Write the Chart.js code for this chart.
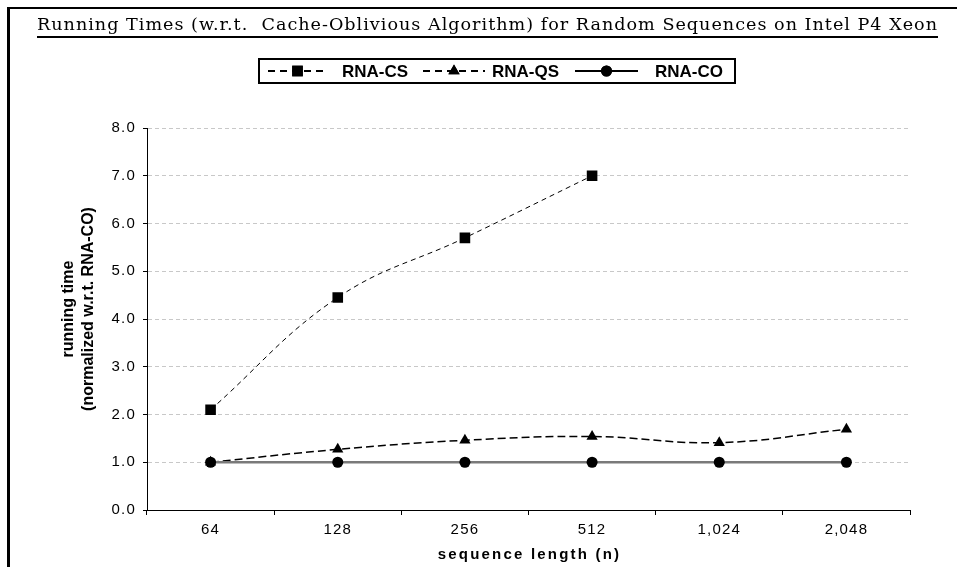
<!DOCTYPE html>
<html>
<head>
<meta charset="utf-8">
<script src="https://cdn.jsdelivr.net/npm/chart.js@4.4.1/dist/chart.umd.min.js"></script>
<style>
  html, body { margin: 0; padding: 0; background: #fff; }
  #wrap { position: relative; width: 957px; height: 567px; }
</style>
</head>
<body>
<div id="wrap"><canvas id="chart" width="957" height="567"></canvas></div>
<script>
// Data
const titleText = 'Running Times (w.r.t.  Cache-Oblivious Algorithm) for Random Sequences on Intel P4 Xeon';
const xTitle = 'sequence length (n)';
const yTitle = ['running time', '(normalized w.r.t. RNA-CO)'];
const seqLengths = ['64', '128', '256', '512', '1,024', '2,048'];
const rnaCS = [2.1, 4.45, 5.7, 7.0, null, null];
const rnaQS = [1.0, 1.27, 1.46, 1.54, 1.41, 1.69];
const rnaCO = [1.0, 1.0, 1.0, 1.0, 1.0, 1.0];
const yTicks = [0, 1, 2, 3, 4, 5, 6, 7, 8];

// slight tracking on the tick labels, like the original
const spacingPlugin = {
  id: 'spacing',
  beforeDraw(chart) { chart.ctx.letterSpacing = '1.2px'; }
};

// Frame, titles and boxed legend
const decorPlugin = {
  id: 'decor',
  afterDraw(chart) {
    const ctx = chart.ctx;
    const area = chart.chartArea;
    ctx.save();
    ctx.letterSpacing = '0px';
    ctx.strokeStyle = '#000';
    ctx.fillStyle = '#000';
    // frame
    ctx.lineWidth = 2;
    ctx.beginPath(); ctx.moveTo(7, 8); ctx.lineTo(957, 8); ctx.stroke();
    ctx.lineWidth = 3;
    ctx.beginPath(); ctx.moveTo(8.5, 7); ctx.lineTo(8.5, 567); ctx.stroke();

    // title, stretched to the original width
    const tLeft = 37, tRight = 938, sx = 1.1;
    ctx.save();
    ctx.font = '16px "DejaVu Serif", serif';
    ctx.textBaseline = 'alphabetic';
    ctx.textAlign = 'left';
    const natural = ctx.measureText(titleText).width * sx;
    ctx.letterSpacing = ((tRight - tLeft - natural) / titleText.length / sx) + 'px';
    ctx.translate(tLeft, 30);
    ctx.scale(sx, 1);
    ctx.fillText(titleText, 0, 0);
    ctx.restore();
    ctx.lineWidth = 2;
    ctx.beginPath(); ctx.moveTo(tLeft, 37); ctx.lineTo(tRight, 37); ctx.stroke();

    // x axis title
    ctx.save();
    ctx.font = 'bold 15px "Liberation Sans", Arial, sans-serif';
    ctx.letterSpacing = '2.2px';
    ctx.textAlign = 'center';
    ctx.textBaseline = 'middle';
    ctx.fillText(xTitle, (area.left + area.right) / 2 + 1, 555);
    ctx.restore();

    // y axis title
    ctx.save();
    ctx.font = 'bold 16px "Liberation Sans Narrow", "Arial Narrow", sans-serif';
    ctx.textAlign = 'center';
    ctx.textBaseline = 'middle';
    ctx.translate(69, 309);
    ctx.rotate(-Math.PI / 2);
    yTitle.forEach((line, i) => ctx.fillText(line, 0, i * 20));
    ctx.restore();

    // legend box
    ctx.lineWidth = 2;
    ctx.strokeRect(259, 59, 476, 24);
    const items = [
      { ds: 0, x0: 268, x1: 327, tx: 342 },
      { ds: 1, x0: 423, x1: 485, tx: 492 },
      { ds: 2, x0: 575, x1: 638, tx: 655 }
    ];
    const y = 71;
    items.forEach(it => {
      const d = chart.data.datasets[it.ds];
      ctx.save();
      ctx.lineWidth = 2;
      ctx.setLineDash(d.borderDash && d.borderDash.length ? [7, 5] : []);
      ctx.beginPath(); ctx.moveTo(it.x0, y); ctx.lineTo(it.x1, y); ctx.stroke();
      ctx.restore();
      Chart.helpers.drawPoint(ctx, { pointStyle: d.pointStyle, radius: d.pointRadius, borderWidth: 0 }, (it.x0 + it.x1) / 2, y);
      ctx.fill();
      ctx.font = 'bold 17px "Liberation Sans Narrow", "Arial Narrow", sans-serif';
      ctx.textBaseline = 'middle';
      ctx.textAlign = 'left';
      ctx.fillText(d.label, it.tx, y + 1);
    });
    ctx.restore();
  }
};

new Chart(document.getElementById('chart'), {
  type: 'line',
  data: {
    labels: seqLengths,
    datasets: [
      {
        label: 'RNA-CS', data: rnaCS, order: 2,
        borderColor: '#000', borderWidth: 1, borderDash: [5, 4],
        pointStyle: 'rect', pointRadius: 7.5, pointBackgroundColor: '#000', pointBorderWidth: 0,
        tension: 0.4
      },
      {
        label: 'RNA-QS', data: rnaQS, order: 1,
        borderColor: '#000', borderWidth: 1.5, borderDash: [8, 4],
        pointStyle: 'triangle', pointRadius: 6.5, pointBackgroundColor: '#000', pointBorderWidth: 0,
        tension: 0.4
      },
      {
        label: 'RNA-CO', data: rnaCO, order: 0,
        borderColor: '#7a7a7a', borderWidth: 2.5,
        pointStyle: 'circle', pointRadius: 5.5, pointBackgroundColor: '#000', pointBorderWidth: 0,
        tension: 0
      }
    ]
  },
  options: {
    responsive: false,
    animation: false,
    layout: { padding: { top: 128, right: 47, bottom: 0, left: 10 } },
    plugins: { legend: { display: false }, title: { display: false }, tooltip: { enabled: false } },
    scales: {
      x: {
        offset: true,
        afterFit(s) { s.height = 57; },
        grid: { offset: true, drawOnChartArea: false, drawTicks: true, tickLength: 5, tickColor: '#000' },
        border: { color: '#000', width: 1 },
        ticks: { color: '#000', padding: 6, font: { family: '"Liberation Sans", Arial, sans-serif', size: 15 } }
      },
      y: {
        min: 0, max: 8,
        afterFit(s) { s.width = 137; },
        afterBuildTicks(s) { s.ticks = yTicks.map(v => ({ value: v })); },
        grid: { color: '#c8c8c8', tickBorderDash: [], drawTicks: true, tickLength: 4, tickColor: '#000' },
        border: { color: '#000', width: 1, dash: [4, 3] },
        ticks: {
          color: '#000', padding: 7,
          font: { family: '"Liberation Sans", Arial, sans-serif', size: 15 },
          callback: v => v.toFixed(1)
        }
      }
    }
  },
  plugins: [spacingPlugin, decorPlugin]
});
</script>
</body>
</html>
